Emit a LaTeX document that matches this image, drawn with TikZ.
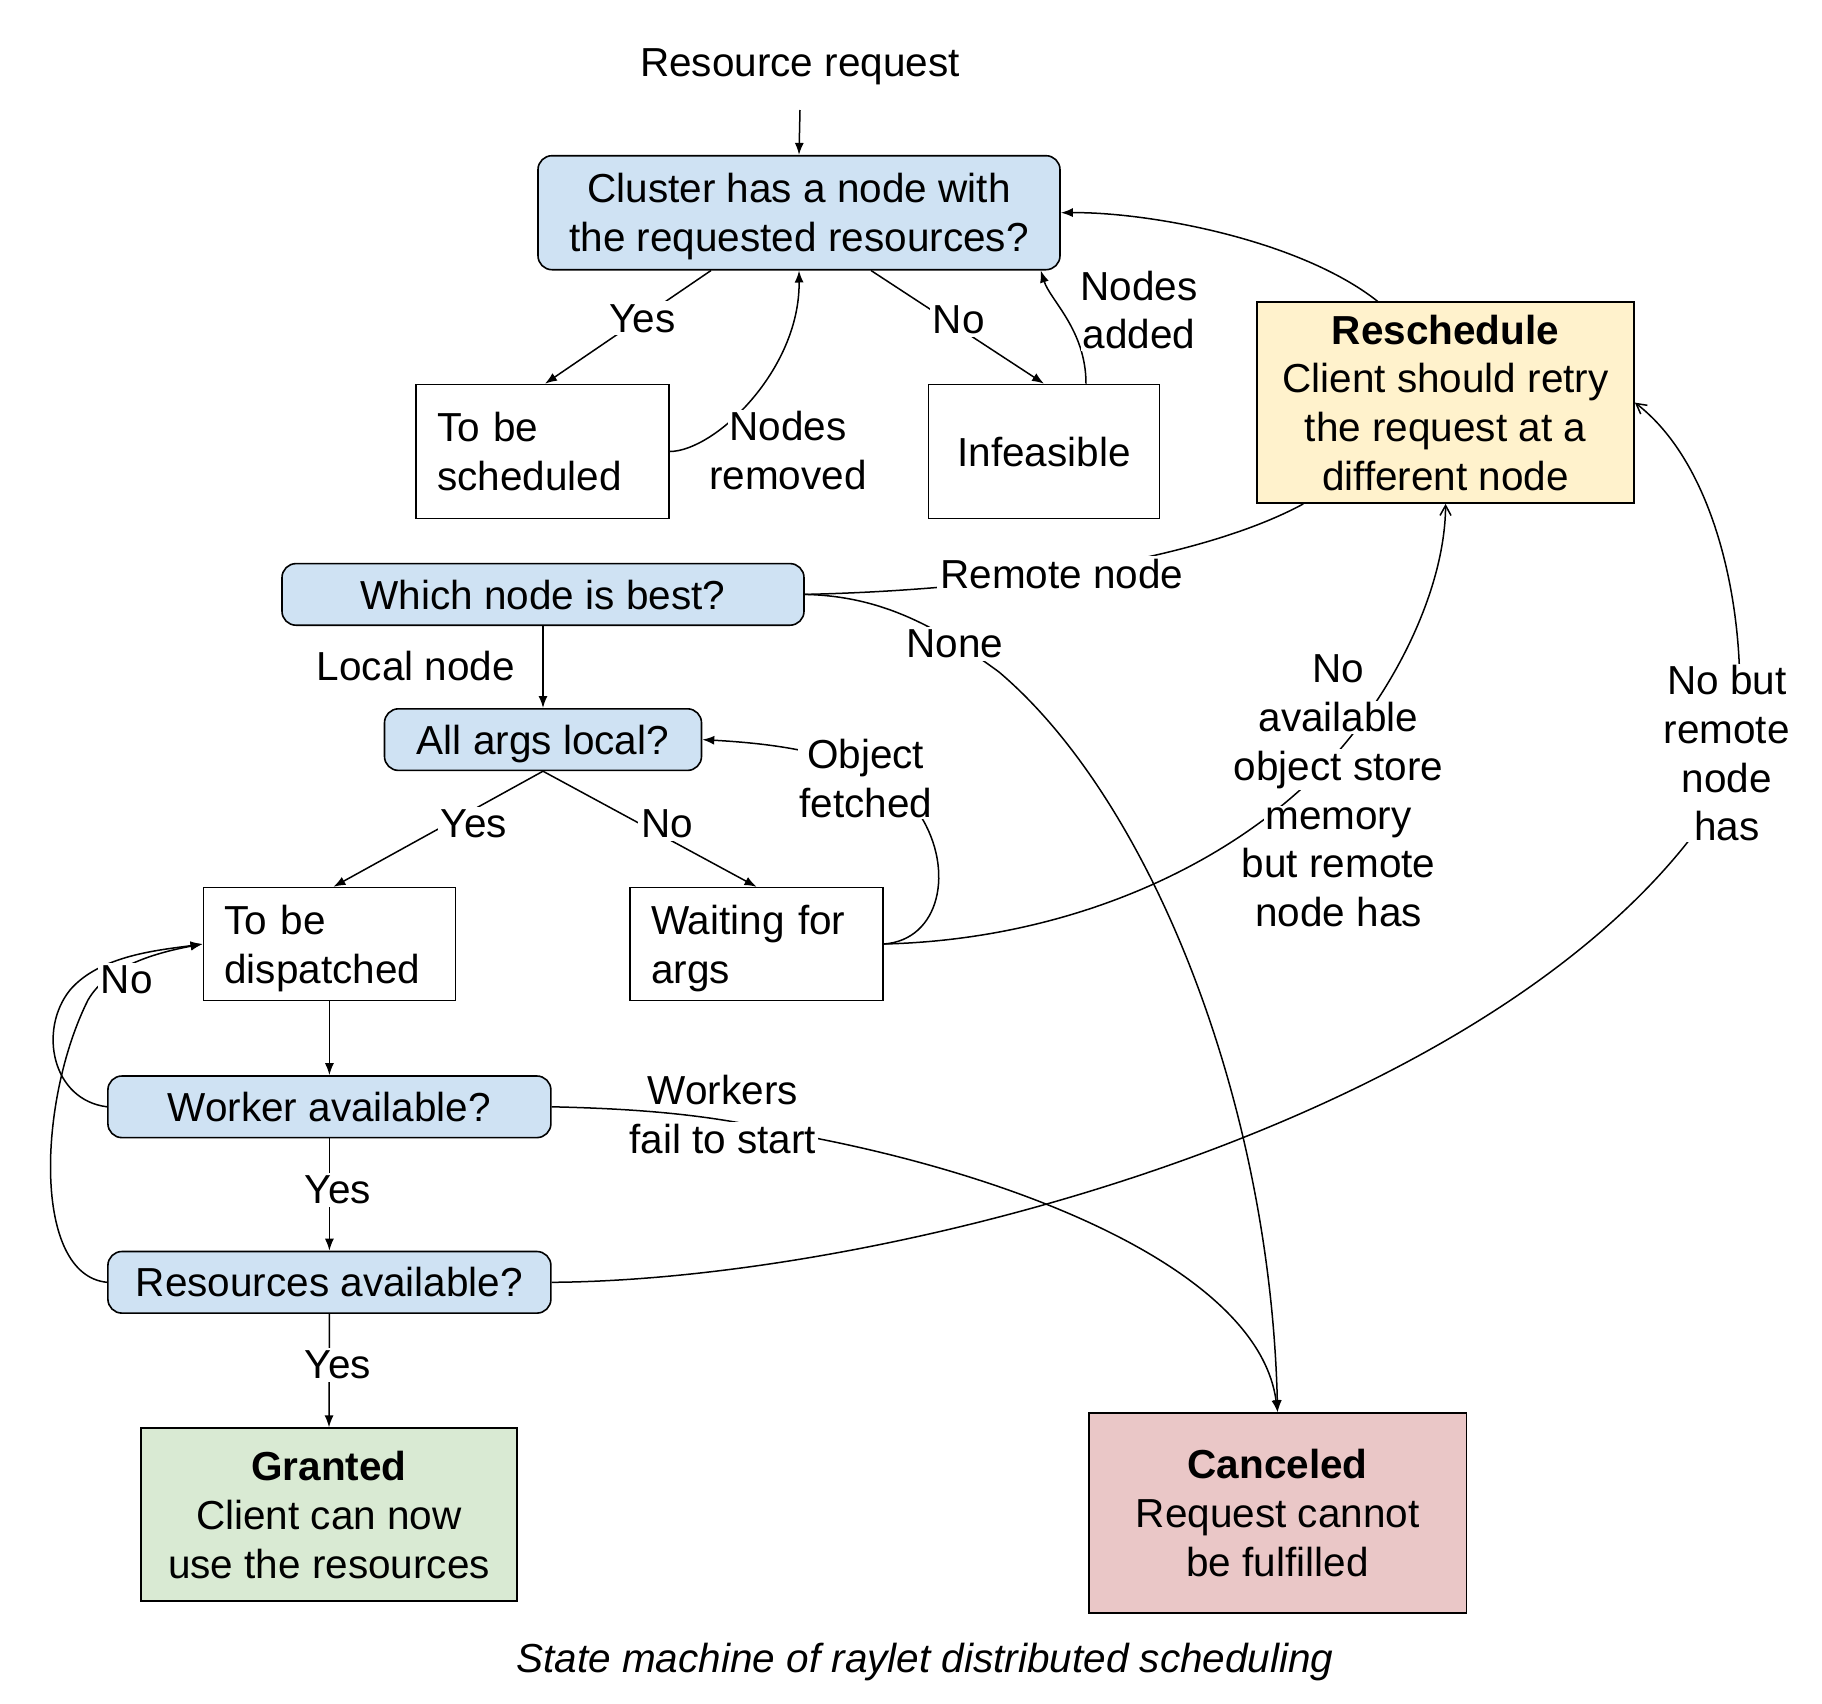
\documentclass[tikz,border=0pt]{standalone}
\usepackage{fontspec}
\setmainfont{Liberation Sans}
\usetikzlibrary{arrows.meta}
\definecolor{qblue}{HTML}{CFE2F3}
\definecolor{ryellow}{HTML}{FFF2CC}
\definecolor{ggreen}{HTML}{D9EAD3}
\definecolor{cred}{HTML}{EAC7C7}
\setlength{\fboxsep}{0.8pt}
\newcommand{\wl}[1]{\colorbox{white}{#1}}
\begin{document}
\begin{tikzpicture}[x=0.5pt,y=-0.5pt,
  every node/.style={font=\fontsize{20.25}{24.4}\selectfont, text depth=0pt},
  box/.style={draw=black, line width=0.8pt, align=center, inner sep=0pt},
  qbox/.style={box, fill=qblue, rounded corners=7pt},
  lbox/.style={draw=black, line width=0.8pt, align=left, inner xsep=10.5pt, inner ysep=0pt, text depth=24.4pt},
  lbl/.style={fill=white, inner sep=1.5pt, align=center},
  mlbl/.style={inner sep=0pt, align=center},
  conn/.style={line width=0.75pt},
  arr/.style={conn, -{Latex[length=6pt,width=4.5pt]}},
  oarr/.style={conn, -{Straight Barb[length=5pt,width=5.5pt]}},
]
\useasboundingbox (0,0) rectangle (1822,1704);

% nodes
\node (rr) at (800,63) {Resource request};
\node[qbox, minimum width=261pt, minimum height=57pt] (cluster) at (799,212.7) {Cluster has a node with\\the requested resources?};
\node[box, fill=ryellow, minimum width=188.5pt, minimum height=100.5pt] (resc) at (1445.6,402.6) {\textbf{Reschedule}\\Client should retry\\the request at a\\different node};
\node[lbox, text width=105.5pt, minimum height=67pt] (tbs) at (542.6,451.5) {To be\\scheduled};
\node[box, minimum width=115.5pt, minimum height=67pt] (inf) at (1044,451.5) {Infeasible};
\node[qbox, minimum width=261pt, minimum height=30.8pt] (which) at (543,594.4) {Which node is best?};
\node[qbox, minimum width=158.5pt, minimum height=30.8pt] (aal) at (543,739.6) {All args local?};
\node[lbox, text width=105pt, minimum height=56.4pt] (tbd) at (329.4,944) {To be\\dispatched};
\node[lbox, text width=105.5pt, minimum height=56.4pt] (wfa) at (756.5,944) {Waiting for\\args};
\node[qbox, minimum width=221.5pt, minimum height=30.8pt] (wa) at (329.4,1106.8) {Worker available?};
\node[qbox, minimum width=221.5pt, minimum height=30.8pt] (ra) at (329.4,1282.3) {Resources available?};
\node[box, fill=ggreen, minimum width=188.25pt, minimum height=86.5pt] (gr) at (329,1514.7) {\textbf{Granted}\\Client can now\\use the resources};
\node[box, fill=cred, minimum width=188.8pt, minimum height=100pt] (canc) at (1277.6,1513) {\textbf{Canceled}\\Request cannot\\be fulfilled};
\node (cap) at (925,1658) {\itshape State machine of raylet distributed scheduling};

% connectors
\draw[arr] ([yshift=-13pt]rr.south) -- (cluster.north);
\draw[arr] ([xshift=-44pt]cluster.south) -- ([xshift=1.2pt]tbs.north);
\draw[arr] ([xshift=36pt]cluster.south) -- (inf.north);
\draw[arr] (tbs.east) .. controls (715,451) and (800,370) .. (cluster.south);
\draw[arr] ([xshift=21pt]inf.north) .. controls (1086,330) and (1050,300) .. ([xshift=-10pt]cluster.south east);
\draw[arr] ([xshift=-34pt]resc.north) .. controls (1300,240) and (1150,212) .. (cluster.east);
\draw[conn] (which.east) .. controls (1000,590) and (1200,560) .. ([xshift=23.5pt]resc.south west);
\draw[arr] (which.east) .. controls (880,596) and (935,625) .. (999,672) .. controls (1150,800) and (1270,1100) .. (canc.north);
\draw[arr] (which.south) -- (aal.north);
\draw[arr] (aal.south) -- ([xshift=2pt]tbd.north);
\draw[arr] (aal.south) -- (wfa.north);
\draw[arr] (wfa.east) .. controls (940,940) and (955,870) .. (920,815) .. controls (880,760) and (800,745) .. (aal.east);
\draw[oarr] (wfa.east) .. controls (1050,940) and (1200,880) .. (1300,790) .. controls (1380,720) and (1445,600) .. (resc.south);
\draw[oarr] (ra.east) .. controls (900,1280) and (1540,1110) .. (1730,780) .. controls (1755,680) and (1735,480) .. (resc.east);
\draw[arr] (tbd.south) -- (wa.north);
\draw[arr] (wa.south) -- (ra.north);
\draw[arr] (ra.south) -- (gr.north);
\draw[arr] (wa.west) .. controls (52,1100) and (38,1030) .. (70,990) .. controls (100,955) and (160,950) .. (tbd.west);
\draw[arr] (ra.west) .. controls (32,1275) and (38,1100) .. (88,1000) .. controls (108,965) and (160,952) .. (tbd.west);
\draw[arr] (wa.east) .. controls (700,1110) and (750,1125) .. (820,1139) .. controls (1050,1185) and (1260,1280) .. (canc.north);

% labels
\node[lbl] (lyes1) at (642.6,318.4) {Yes};
\node[lbl] (lno1) at (958.7,319.6) {No};
\node[mlbl] (lnr) at (787.8,449.7) {\wl{Nodes}\\\wl{removed}};
\node[mlbl] (lna) at (1138.8,309) {\wl{Nodes}\\\wl{added}};
\node[lbl] (lrn) at (1062,574) {Remote node};
\node[lbl] (lnone) at (955,643.7) {None};
\node (lln) at (416,665.8) {Local node};
\node[lbl] (lyes2) at (474,823.9) {Yes};
\node[lbl] (lno2) at (667,823.9) {No};
\node[lbl, inner sep=0.8pt] (lof) at (865.7,778.5) {Object\\fetched};
\node[mlbl] (lnoav) at (1338.6,790) {\wl{No}\\\wl{available}\\\wl{object store}\\\wl{memory}\\\wl{but remote}\\\wl{node has}};
\node[lbl, inner sep=0.8pt] (lnbr) at (1726.7,753) {No but\\remote\\node\\has};
\node[lbl] (lno3) at (126.7,979.6) {No};
\node[mlbl] (lwf) at (722.8,1113.2) {\wl{Workers}\\\wl{fail to start}};
\node[lbl] (lyes3) at (338,1190) {Yes};
\node[lbl] (lyes4) at (338,1365) {Yes};
\end{tikzpicture}
\end{document}
